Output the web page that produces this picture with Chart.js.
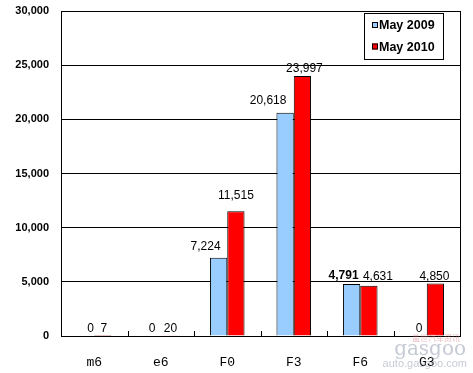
<!DOCTYPE html>
<html><head><meta charset="utf-8">
<script src="https://cdn.jsdelivr.net/npm/chart.js@4.4.1/dist/chart.umd.min.js"></script>
<style>html,body{margin:0;padding:0;background:#fff}#wrap{width:473px;height:373px}</style>
</head><body><div id="wrap"><canvas id="c" width="473" height="373"></canvas></div>
<script>
const categories = ["m6","e6","F0","F3","F6","G3"];
const may2009 = [0,0,7224,20618,4791,0];
const may2010 = [7,20,11515,23997,4631,4850];
const seriesNames = ["May 2009","May 2010"];
const yTicks = [0,5000,10000,15000,20000,25000,30000];

const fmt = v => v.toLocaleString('en-US');

// label placement offsets (px) per series, per category, as placed in the original
const labelDx = [[5,0,-13,-17,-8,1],[1,1,0,2,9,-1]];
const labelDy = [[0,0,-4,-5,-1,0],[0,0,-9,0,-2,0]];

const labelPlugin = {
  id:'labels',
  afterDatasetsDraw(chart){
    const ctx = chart.ctx;
    ctx.save();
    ctx.fillStyle = '#000';
    ctx.textAlign = 'center';
    ctx.textBaseline = 'bottom';
    chart.data.datasets.forEach((ds,di)=>{
      chart.getDatasetMeta(di).data.forEach((bar,i)=>{
        const bold = (di===0 && i===4);
        ctx.font = (bold?'bold ':'') + '12px "Liberation Sans", Arial, sans-serif';
        ctx.fillText(fmt(ds.data[i]), bar.x + labelDx[di][i], bar.y - 1 + labelDy[di][i]);
      });
    });
    ctx.restore();
  }
};

const framePlugin = {
  id:'frame',
  afterDraw(chart){
    const {ctx, chartArea:a} = chart;
    ctx.save();
    ctx.strokeStyle='#000'; ctx.lineWidth=1;
    ctx.strokeRect(Math.round(a.left)+0.5, Math.round(a.top)+0.5, Math.round(a.right-a.left), Math.round(a.bottom-a.top));
    const n = categories.length, w=(a.right-a.left)/n;
    for(let i=1;i<n;i++){
      const x=Math.round(a.left+i*w)+0.5;
      ctx.beginPath(); ctx.moveTo(x,a.bottom); ctx.lineTo(x,a.bottom-5); ctx.stroke();
    }
    // legend box
    const lx=364, ly=13, lw=79, lh=46;
    ctx.fillStyle='#fff'; ctx.fillRect(lx,ly,lw,lh);
    ctx.strokeRect(lx+0.5,ly+0.5,lw,lh);
    ctx.font='bold 12.5px "Liberation Sans", Arial, sans-serif';
    ctx.textBaseline='middle'; ctx.textAlign='left';
    chart.data.datasets.forEach((ds,i)=>{
      const y = ly+12+i*21.5;
      ctx.fillStyle=ds.backgroundColor; ctx.fillRect(lx+8,y-3,6,6);
      ctx.strokeStyle='#000'; ctx.strokeRect(lx+8.5,y-2.5,5,5);
      ctx.fillStyle='#000'; ctx.fillText(ds.label, lx+15, y+1);
    });
    // watermark
    ctx.textAlign='right';
    ctx.fillStyle='rgba(140,150,170,0.5)';
    ctx.font='11px "Liberation Sans", Arial, sans-serif';
    ctx.fillText('auto.gasgoo.com', 467, 364);
    ctx.font='20px "DejaVu Serif", serif';
    ctx.fillText('gasgoo', 466, 350);
    ctx.fillStyle='rgba(220,120,130,0.5)';
    ctx.font='8px "Noto Sans CJK SC", sans-serif';
    ctx.fillText('盖世汽车资讯', 460, 338);
    ctx.restore();
  }
};

new Chart(document.getElementById('c'),{
  type:'bar',
  data:{
    labels:categories,
    datasets:[
      {label:seriesNames[0], data:may2009, backgroundColor:'#99CCFF', borderColor:'#000', borderWidth:1},
      {label:seriesNames[1], data:may2010, backgroundColor:'#FF0000', borderColor:'#000', borderWidth:1}
    ]
  },
  options:{
    responsive:false, animation:false, devicePixelRatio:1,
    layout:{autoPadding:false, padding:{top:11,right:13,left:0,bottom:0}},
    plugins:{legend:{display:false}, tooltip:{enabled:false}},
    datasets:{bar:{categoryPercentage:0.52, barPercentage:1}},
    scales:{
      x:{
        grid:{display:false, drawTicks:false},
        border:{display:true,color:'#000'},
        ticks:{padding:19, color:'#000', font:{family:'"Liberation Mono", monospace', size:13}},
        afterFit(s){ s.height=37; s.paddingLeft=0; s.paddingRight=0; }
      },
      y:{
        min:0, max:30000,
        afterBuildTicks(s){ s.ticks = yTicks.map(v=>({value:v})); },
        grid:{color:'#000', drawTicks:false, lineWidth:1},
        border:{display:true,color:'#000'},
        ticks:{padding:12, color:'#000', font:{family:'"Liberation Sans", Arial, sans-serif', size:11, weight:'bold'}, callback:v=>fmt(v)},
        afterFit(s){ s.width=61; s.paddingTop=0; s.paddingBottom=0; }
      }
    }
  },
  plugins:[labelPlugin, framePlugin]
});
</script></body></html>
